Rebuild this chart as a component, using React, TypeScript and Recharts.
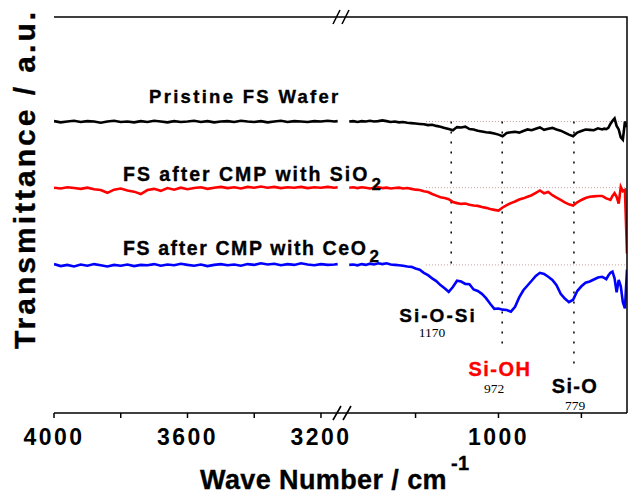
import React from 'react';
import { LineChart, Line, XAxis, YAxis, ReferenceLine } from 'recharts';

// wavenumbers (cm-1), high range segment left of the axis break
const leftWave = [
  4000, 3980, 3960, 3940, 3920, 3900, 3880, 3860, 3840, 3820,
  3800, 3780, 3760, 3740, 3720, 3700, 3680, 3660, 3640, 3620,
  3600, 3580, 3560, 3540, 3520, 3500, 3480, 3460, 3440, 3420,
  3400, 3380, 3360, 3340, 3320, 3300, 3280, 3260, 3240, 3220,
  3200, 3180, 3160, 3150,
];
const pristineLeft = [
  73.7, 73.4, 73.6, 73.8, 73.5, 73.7, 73.6, 73.3, 73.6, 73.8,
  73.5, 73.6, 73.4, 73.7, 73.5, 73.8, 73.6, 73.4, 73.7, 73.5,
  73.6, 73.8, 73.5, 73.7, 73.4, 73.6, 73.7, 73.5, 73.8, 73.6,
  73.5, 73.7, 73.4, 73.6, 73.8, 73.5, 73.7, 73.6, 73.5, 73.7,
  73.6, 73.8, 73.6, 73.7,
];
const sio2Left = [
  56.9, 56.7, 57.0, 56.8, 56.6, 56.9, 56.5, 56.3, 55.6, 56.4,
  56.7, 56.2, 55.9, 55.3, 56.3, 56.6, 56.1, 56.8, 56.4, 56.9,
  56.5, 56.8, 57.0, 56.6, 56.9, 57.1, 56.8, 57.0, 56.7, 57.1,
  56.9, 57.2, 56.9, 57.1, 56.8, 57.0, 56.9, 57.1, 56.8, 57.0,
  56.9, 57.1, 56.9, 57.0,
];
const ceo2Left = [
  37.6, 37.1, 37.4, 37.0, 37.5, 37.2, 37.6, 37.3, 37.0, 37.4,
  37.2, 37.5, 37.1, 37.4, 37.3, 37.6, 37.2, 37.5, 37.3, 37.7,
  37.4, 37.2, 37.5, 37.1, 37.4, 37.6, 37.3, 37.5, 37.2, 37.6,
  37.4, 37.8, 37.5, 37.7, 37.3, 37.6, 37.4, 37.8, 37.5, 37.3,
  37.6, 37.4, 37.5, 37.6,
];

// low range segment right of the break
const rightWave = [
  1360, 1350, 1340, 1330, 1320, 1310, 1300, 1290, 1280, 1270,
  1260, 1250, 1240, 1230, 1220, 1210, 1200, 1190, 1180, 1170,
  1160, 1150, 1140, 1130, 1120, 1110, 1100, 1090, 1080, 1070,
  1060, 1050, 1040, 1030, 1020, 1010, 1000, 990, 980, 970,
  960, 950, 940, 930, 920, 910, 900, 890, 880, 870,
  860, 850, 840, 830, 820, 810, 800, 790, 780, 770,
  760, 750, 745, 740, 735, 730, 725, 720, 715, 710,
  705, 700, 695, 690,
];
const pristineRight = [
  73.6, 73.7, 73.5, 73.7, 73.6, 73.8, 73.6, 73.7, 73.9, 73.7,
  73.5, 73.6, 73.4, 73.5, 73.3, 73.2, 73.1, 73.0, 72.9, 72.7,
  72.8, 72.5, 72.3, 72.0, 71.7, 71.4, 72.2, 72.1, 72.3, 71.7,
  71.6, 71.3, 71.1, 70.9, 70.8, 70.6, 70.3, 69.9, 70.7, 70.9,
  71.0, 70.8, 71.2, 71.6, 71.4, 71.8, 72.1, 71.5, 71.8, 72.0,
  71.6, 71.3, 70.8, 70.3, 69.9, 70.8, 71.2, 71.6, 71.5, 71.4,
  71.9, 71.6, 71.8, 71.7, 72.0, 73.0, 73.8, 74.4, 72.5, 71.6,
  69.6, 69.0, 73.6, 72.2,
];
const sio2Right = [
  56.9, 57.0, 56.8, 57.0, 56.9, 56.7, 56.9, 57.0, 56.8, 56.9,
  56.7, 56.8, 56.9, 56.7, 56.8, 56.6, 56.4, 56.3, 56.0, 55.8,
  55.3, 54.9, 54.5, 54.3, 54.0, 53.3, 53.0, 52.8, 52.9, 52.6,
  52.4, 52.3, 52.0, 51.8, 51.5, 51.3, 51.1, 51.9, 52.5, 53.0,
  53.4, 53.9, 54.2, 54.6, 55.0, 55.6, 56.2, 55.5, 55.8, 55.0,
  54.4, 53.8, 53.2, 52.7, 52.4, 53.2, 53.8, 54.3, 54.6, 54.7,
  54.8, 54.8, 54.5, 54.2, 54.0, 53.8, 54.8, 55.5, 54.6, 52.9,
  57.1, 56.0, 56.3, 40.3,
];
const ceo2Right = [
  37.4, 37.5, 37.3, 37.6, 37.4, 37.7, 37.5, 37.8, 37.6, 37.8,
  37.5, 37.4, 37.3, 37.2, 37.0, 36.9, 36.5, 36.2, 35.4, 34.8,
  34.0, 33.3, 32.3, 31.5, 30.6, 31.8, 33.4, 33.2, 32.6, 32.5,
  31.2, 30.8, 30.1, 29.0, 27.6, 26.3, 26.4, 26.1, 26.0, 25.6,
  26.8, 29.2, 31.0, 32.2, 33.4, 34.6, 35.4, 35.1, 34.4, 33.6,
  32.3, 30.1, 28.9, 28.0, 28.6, 30.8, 32.0, 32.9, 33.2, 33.7,
  34.2, 34.4, 34.1, 33.8, 34.7, 35.4, 35.7, 34.0, 30.5, 33.6,
  32.0, 28.0, 26.4, 36.2,
];

const leftTicks = [4000, 3800, 3600, 3400, 3200];
const rightTicks = [1200, 1000, 800];
const labeledTicks = [4000, 3600, 3200, 1000];

// peak markers: where the dotted guide sits, how far down it runs
const peakWave = [1114, 991, 818];
const peakBottom = [36, 16.7, 11.7];
const baselines = [73.6, 56.9, 37.4];

const FONT = 'Arial, "Liberation Sans", sans-serif';
const SERIF = '"Times New Roman", "Liberation Serif", serif';

const leftData = leftWave.map((w, i) => ({
  wave: w,
  pristine: pristineLeft[i],
  sio2: sio2Left[i],
  ceo2: ceo2Left[i],
}));
const rightData = rightWave.map((w, i) => ({
  wave: w,
  pristine: pristineRight[i],
  sio2: sio2Right[i],
  ceo2: ceo2Right[i],
}));

const axisStyle = { stroke: '#000', strokeWidth: 1.5 };
const tickStyle = {
  fill: '#000',
  fontSize: 23,
  fontWeight: 'bold',
  fontFamily: FONT,
  letterSpacing: 2.5,
};
const fmt = (v: number) => (labeledTicks.includes(v) ? String(v) : '');

const series = (
  [
    ['pristine', '#000000'],
    ['sio2', '#ff0000'],
    ['ceo2', '#0000ff'],
  ] as const
).map(([key, color]) => (
  <Line
    key={key}
    dataKey={key}
    stroke={color}
    strokeWidth={2.6}
    dot={false}
    type="linear"
    isAnimationActive={false}
  />
));

const App: React.FC = () => {
  return (
    <div style={{ position: 'absolute', left: 0, top: 0, width: 631, height: 494, background: '#fff' }}>
      {/* right segment: 1375 - 690 */}
      <div style={{ position: 'absolute', left: 343, top: 0 }}>
        <LineChart width={288} height={494} data={rightData} margin={{ top: 17, right: 4, bottom: 51, left: 0 }}>
          <XAxis
            dataKey="wave"
            type="number"
            domain={[690, 1375]}
            reversed
            allowDataOverflow
            ticks={rightTicks}
            interval={0}
            tickFormatter={fmt}
            tickSize={5}
            tickMargin={11}
            height={30}
            axisLine={axisStyle}
            tickLine={axisStyle}
            tick={tickStyle}
          />
          <YAxis hide type="number" domain={[0, 100]} />
          {baselines.map((b, i) => (
            <ReferenceLine
              key={`base-${i}`}
              segment={[{ x: 1175, y: b }, { x: 690, y: b }]}
              stroke="#c99a9a"
              strokeWidth={1}
              strokeDasharray="1 2"
            />
          ))}
          {peakWave.map((p, i) => (
            <ReferenceLine
              key={`peak-${i}`}
              segment={[{ x: p, y: baselines[0] }, { x: p, y: peakBottom[i] }]}
              stroke="#000"
              strokeWidth={1.5}
              strokeDasharray="2 8"
            />
          ))}
          {series}
        </LineChart>
      </div>

      {/* left segment: 4000 - 3134 */}
      <div style={{ position: 'absolute', left: 0, top: 0 }}>
        <LineChart width={390} height={494} data={leftData} margin={{ top: 17, right: 47, bottom: 51, left: 54 }}>
          <XAxis
            dataKey="wave"
            type="number"
            domain={[3134, 4000]}
            reversed
            allowDataOverflow
            ticks={leftTicks}
            interval={0}
            tickFormatter={fmt}
            tickSize={5}
            tickMargin={11}
            height={30}
            axisLine={axisStyle}
            tickLine={axisStyle}
            tick={tickStyle}
          />
          <YAxis type="number" domain={[0, 100]} width={0} tick={false} tickLine={false} axisLine={axisStyle} />
          {series}
        </LineChart>
      </div>

      {/* frame, break marks and texts */}
      <svg width={631} height={494} style={{ position: 'absolute', left: 0, top: 0, pointerEvents: 'none' }}>
        <g stroke="#000" strokeWidth={1.5} fill="none">
          <polyline points="54,17 627,17 627,413" />
        </g>
        <g stroke="#000" strokeWidth={1.6}>
          <line x1={333} y1={24} x2={340} y2={10} />
          <line x1={342} y1={24} x2={349} y2={10} />
          <line x1={333} y1={420} x2={341} y2={406} />
          <line x1={343} y1={420} x2={351} y2={406} />
        </g>
        <g fontFamily={FONT} fontWeight="bold" fill="#000" stroke="#000" strokeWidth={0.35}>
          <text x={149} y={103} fontSize={18.5} letterSpacing={2.3}>Pristine FS Wafer</text>
          <text x={123} y={181} fontSize={19.5} letterSpacing={2}>
            FS after CMP with SiO<tspan dx={2} dy={9} fontSize={17}>2</tspan>
          </text>
          <text x={123} y={255} fontSize={19.5} letterSpacing={1.6}>
            FS after CMP with CeO<tspan dx={2} dy={7} fontSize={17}>2</tspan>
          </text>
          <text x={438} y={322} fontSize={19} letterSpacing={2} textAnchor="middle">Si-O-Si</text>
          <text x={500} y={376} fontSize={20} letterSpacing={1.5} textAnchor="middle" fill="#ff0000" stroke="#ff0000">Si-OH</text>
          <text x={575} y={393} fontSize={20} letterSpacing={1.3} textAnchor="middle">Si-O</text>
          <text x={200} y={489} fontSize={27} letterSpacing={0.4}>
            Wave Number / cm<tspan dx={4} dy={-19} fontSize={20}>-1</tspan>
          </text>
          <text transform="translate(35,179) rotate(-90)" fontSize={30} letterSpacing={3} textAnchor="middle">
            Transmittance / a.u.
          </text>
        </g>
        <g fontFamily={SERIF} fill="#000" fontSize={13.5} textAnchor="middle">
          <text x={432} y={337}>1170</text>
          <text x={494} y={393}>972</text>
          <text x={575} y={410}>779</text>
        </g>
      </svg>
    </div>
  );
};

export default App;
